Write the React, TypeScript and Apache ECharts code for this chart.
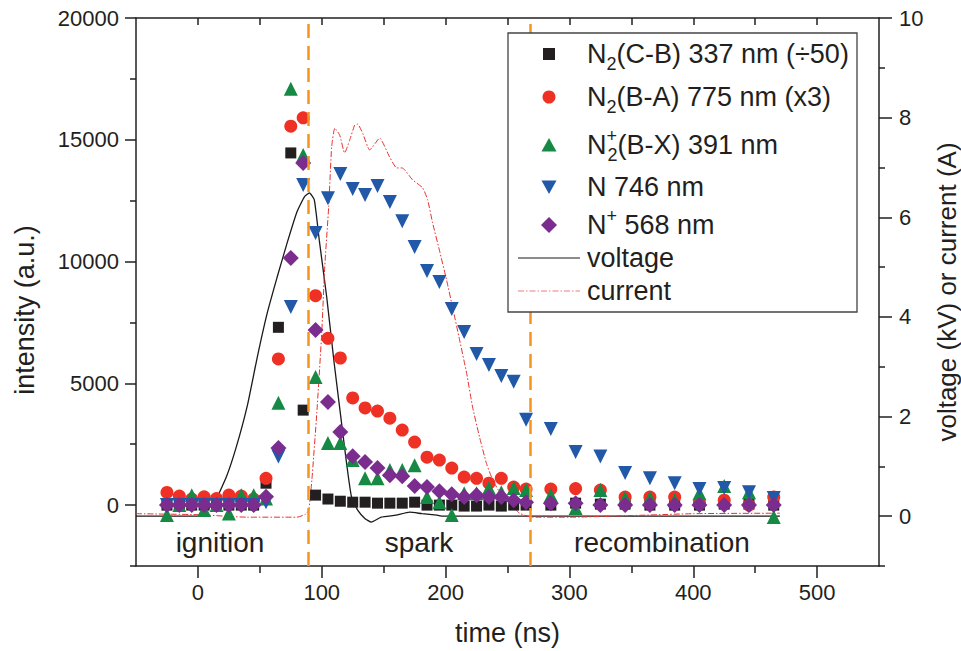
import React, { useEffect, useRef } from 'react';
import * as echarts from 'echarts';

const FONT = 'Liberation Sans, Arial, sans-serif';
const INK = '#231f20';

// time axis of the optical emission measurements (ns)
const timesNs = [-25, -15, -5, 5, 15, 25, 35, 45, 55, 65, 75, 85, 95, 105, 115, 125, 135, 145, 155, 165, 175, 185, 195, 205, 215, 225, 235, 245, 255, 265, 285, 305, 325, 345, 365, 385, 405, 425, 445, 465];

const n2CB = [0, 0, 0, 0, 0, 0, 0, 0, 900, 7300, 14460, 3900, 410, 250, 160, 120, 120, 80, 80, 80, 120, 0, 0, 0, -40, -40, 0, -40, 0, 0, 0, 80, 40, 40, 0, 0, 0, 40, 40, 0];
const n2BA = [520, 370, 250, 340, 270, 410, 370, 250, 1100, 6000, 15560, 15900, 8600, 6850, 6040, 4400, 3990, 3860, 3570, 3080, 2590, 1970, 1850, 1520, 1150, 1100, 900, 1100, 740, 660, 660, 680, 620, 330, 330, 330, 120, 200, 0, 330];
const n2pBX = [-410, 0, 410, -200, 0, -340, 410, 410, 270, 4200, 17100, 14370, 5260, 2550, 2550, 1850, 1100, 1100, 1440, 1440, 1640, 330, 120, -410, 490, 490, 700, 530, 700, 620, 410, -120, 620, 290, 290, 200, 490, 780, 530, -490];
const n746 = [0, 0, 0, 0, 0, 0, 0, 0, 120, 2000, 8130, 13140, 11170, 12600, 13600, 12980, 12730, 13100, 12450, 11660, 10600, 9610, 9160, 8050, 7110, 6200, 5750, 5300, 5060, 3500, 3130, 2180, 2000, 1320, 1100, 900, 660, 700, 530, 290];
const np568 = [0, 0, 0, 0, 0, 0, 0, 0, 340, 2350, 10150, 14050, 7190, 4230, 3000, 2010, 1770, 1520, 1230, 1190, 780, 740, 570, 450, 330, 410, 330, 330, 200, 120, 80, 80, 0, 0, 0, 0, 0, 0, 0, 0];

// electrical waveforms (right axis)
const voltageT = [-50, 0, 5, 13, 23, 31, 40, 48, 56, 64, 72, 80, 86, 90, 94, 98, 104, 110, 115, 120, 124, 129, 135, 140, 148, 160, 171, 181, 193, 198, 230, 300, 400, 470];
const voltageV = [0, 0, 0.08, 0.26, 0.79, 1.39, 2.23, 3.2, 4.08, 4.8, 5.48, 6.11, 6.41, 6.49, 6.35, 5.54, 4.4, 3.08, 2.07, 1.07, 0.39, 0.12, -0.05, -0.12, -0.02, 0.02, 0.08, 0.05, 0.02, 0, 0, 0, 0, 0];
const currentT = [-50, 0, 40, 80, 87, 89.5, 92, 96, 100, 102.4, 105.6, 108, 110.5, 114.5, 118.5, 122.6, 126.6, 129, 133, 138.7, 146.8, 154.8, 160.5, 165, 173.4, 181.5, 185.5, 189.5, 195, 200.8, 205.6, 211.3, 217, 221.8, 227.4, 233, 238, 243.5, 251.6, 259.7, 270, 300, 400, 470];
const currentV = [0.05, 0.03, -0.02, -0.02, 0.04, 0.12, 0.72, 2.07, 3.68, 5.0, 6.21, 7.41, 7.79, 7.65, 7.29, 7.55, 7.85, 7.87, 7.69, 7.35, 7.59, 7.21, 6.99, 6.99, 6.75, 6.59, 6.35, 5.89, 5.34, 4.74, 4.2, 3.54, 2.87, 2.19, 1.59, 1.06, 0.73, 0.49, 0.26, 0.06, -0.02, -0.02, 0.05, 0.06];

// phase boundaries (ns)
const phaseBoundaries = [89, 268];
const phaseLabels = ['ignition', 'spark', 'recombination'];

// ticks
const xMajor = [0, 100, 200, 300, 400, 500];
const xMinor = [50, 150, 250, 350, 450];
const xTop = [0, 50, 100, 150, 200, 250, 300, 350, 400, 450, 500];
const yMajor = [0, 5000, 10000, 15000, 20000];
const yMinor = [-2500, 2500, 7500, 12500, 17500];
const vMajor = [0, 2, 4, 6, 8, 10];
const vMinor = [-1, 1, 3, 5, 7, 9];

const names = [
  'N2(C-B) 337 nm (÷50)',
  'N2(B-A) 775 nm (x3)',
  'N2+(B-X) 391 nm',
  'N 746 nm',
  'N+ 568 nm',
  'voltage',
  'current',
];
const richLabels = [
  'N{sub|2}(C-B) 337 nm (÷50)',
  'N{sub|2}(B-A) 775 nm (x3)',
  'N{supw|+}{sub|2}(B-X) 391 nm',
  'N 746 nm',
  'N{sup|+} 568 nm',
  'voltage',
  'current',
];

const COLORS = ['#231f20', '#ee3124', '#168a45', '#2158a8', '#7a2d8f'];
const VOLT_COLOR = '#1a1a1a';
const CURR_COLOR = '#e8302e';

const pair = (xs: number[], ys: number[]) => xs.map((x, i) => [x, ys[i]]);

function buildLegend() {
  const bx = 508, by = 33, bw = 349, bh = 279;
  const mx = 549; // marker centre
  const tx = 587; // text start
  const rows = [54, 97, 145, 187, 225, 258, 291];
  const rich = {
    sub: { fontSize: 18, padding: [20, 0, 0, 0], verticalAlign: 'middle', fill: INK, fontFamily: FONT },
    sup: { fontSize: 18, padding: [0, 0, 18, 0], verticalAlign: 'middle', fill: INK, fontFamily: FONT },
    supw: { fontSize: 18, padding: [0, 0, 18, 0], width: 1, verticalAlign: 'middle', fill: INK, fontFamily: FONT },
  };
  const els: any[] = [
    { type: 'rect', shape: { x: bx, y: by, width: bw, height: bh }, style: { fill: '#ffffff', stroke: '#444', lineWidth: 1.3 }, z: 100 },
    { type: 'rect', shape: { x: mx - 6, y: rows[0] - 6, width: 12, height: 12 }, style: { fill: COLORS[0] }, z: 101 },
    { type: 'circle', shape: { cx: mx, cy: rows[1], r: 6.5 }, style: { fill: COLORS[1] }, z: 101 },
    { type: 'polygon', shape: { points: [[mx, rows[2] - 7], [mx + 7.5, rows[2] + 6.5], [mx - 7.5, rows[2] + 6.5]] }, style: { fill: COLORS[2] }, z: 101 },
    { type: 'polygon', shape: { points: [[mx - 7.5, rows[3] - 6.5], [mx + 7.5, rows[3] - 6.5], [mx, rows[3] + 7]] }, style: { fill: COLORS[3] }, z: 101 },
    { type: 'polygon', shape: { points: [[mx, rows[4] - 8], [mx + 8, rows[4]], [mx, rows[4] + 8], [mx - 8, rows[4]]] }, style: { fill: COLORS[4] }, z: 101 },
    { type: 'line', shape: { x1: 518, y1: rows[5], x2: 580, y2: rows[5] }, style: { stroke: '#666', lineWidth: 1.4 }, z: 101 },
    { type: 'line', shape: { x1: 518, y1: rows[6], x2: 580, y2: rows[6] }, style: { stroke: '#f07b7b', lineWidth: 1.2, lineDash: [6, 2, 1.5, 2] }, z: 101 },
  ];
  richLabels.forEach((t, i) => {
    els.push({
      type: 'text', x: tx, y: rows[i], z: 101,
      style: { text: t, fontSize: 27, fontFamily: FONT, fill: INK, align: 'left', verticalAlign: 'middle', rich },
    });
  });
  return els;
}

export default function App() {
  const ref = useRef<HTMLDivElement>(null);
  useEffect(() => {
    if (!ref.current) return;
    const chart = echarts.init(ref.current, null, { renderer: 'svg' });
    const axisLine = { show: true, onZero: false, lineStyle: { color: INK, width: 1.5 } };
    const tickLine = { color: INK, width: 1.5 };
    const scatter = (idx: number, data: number[], symbol: string, size: number, rotate = 0) => ({
      name: names[idx],
      type: 'scatter',
      xAxisIndex: 0,
      yAxisIndex: 0,
      symbol,
      symbolSize: size,
      symbolRotate: rotate,
      itemStyle: { color: COLORS[idx], opacity: 1 },
      data: pair(timesNs, data),
      z: 3,
    });
    const phaseText = (text: string, x: number) => ({
      type: 'text', x, y: 542, z: 10,
      style: { text, fontSize: 28, fontFamily: FONT, fill: INK, align: 'center', verticalAlign: 'middle' },
    });
    const option: any = {
      animation: false,
      backgroundColor: '#ffffff',
      textStyle: { fontFamily: FONT },
      grid: { left: 136, right: 82, top: 18, bottom: 85, outerBoundsMode: 'none', containLabel: false },
      xAxis: [
        {
          type: 'value', min: -50, max: 550, position: 'bottom',
          axisLine,
          axisTick: { show: true, customValues: xMajor, length: 12, inside: false, lineStyle: tickLine },
          axisLabel: { show: true, customValues: xMajor, fontSize: 22, color: INK, margin: 15, fontFamily: FONT, formatter: (v: number) => String(v) },
          splitLine: { show: false },
          name: 'time (ns)', nameLocation: 'middle', nameGap: 53,
          nameTextStyle: { fontSize: 27, color: INK, fontFamily: FONT },
        },
        {
          type: 'value', min: -50, max: 550, position: 'top',
          axisLine,
          axisTick: { show: true, customValues: xTop, length: 7, inside: true, lineStyle: tickLine },
          axisLabel: { show: false },
          splitLine: { show: false },
        },
        {
          type: 'value', min: -50, max: 550, position: 'bottom',
          axisLine: { show: false, onZero: false },
          axisTick: { show: true, customValues: xMinor, length: 7, inside: false, lineStyle: tickLine },
          axisLabel: { show: false },
          splitLine: { show: false },
        },
      ],
      yAxis: [
        {
          type: 'value', min: -2500, max: 20000, position: 'left',
          axisLine,
          axisTick: { show: true, customValues: yMajor, length: 11, inside: false, lineStyle: tickLine },
          axisLabel: { show: true, customValues: yMajor, fontSize: 22, color: INK, margin: 17, fontFamily: FONT, formatter: (v: number) => String(v) },
          splitLine: { show: false },
          name: 'intensity (a.u.)', nameLocation: 'middle', nameGap: 98, nameRotate: 90,
          nameTextStyle: { fontSize: 27, color: INK, fontFamily: FONT, padding: [0, 36, 0, 0] },
        },
        {
          type: 'value', min: -1, max: 10, position: 'right',
          axisLine,
          axisTick: { show: true, customValues: vMajor, length: 13, inside: false, lineStyle: tickLine },
          axisLabel: { show: true, customValues: vMajor, fontSize: 22, color: INK, margin: 20, fontFamily: FONT, formatter: (v: number) => String(v) },
          splitLine: { show: false },
          name: 'voltage (kV) or current (A)', nameLocation: 'middle', nameGap: 42, nameRotate: 90,
          nameTextStyle: { fontSize: 26, color: INK, fontFamily: FONT },
        },
        {
          type: 'value', min: -2500, max: 20000, position: 'left',
          axisLine: { show: false, onZero: false },
          axisTick: { show: true, customValues: yMinor, length: 6, inside: false, lineStyle: tickLine },
          axisLabel: { show: false },
          splitLine: { show: false },
        },
        {
          type: 'value', min: -1, max: 10, position: 'right',
          axisLine: { show: false, onZero: false },
          axisTick: { show: true, customValues: vMinor, length: 6, inside: false, lineStyle: tickLine },
          axisLabel: { show: false },
          splitLine: { show: false },
        },
      ],
      graphic: [
        phaseText(phaseLabels[0], 220),
        phaseText(phaseLabels[1], 419),
        phaseText(phaseLabels[2], 662),
        ...buildLegend(),
      ],
      series: [
        {
          name: names[5], type: 'line', xAxisIndex: 0, yAxisIndex: 1,
          data: pair(voltageT, voltageV), symbol: 'none', showSymbol: false, smooth: 0.15,
          lineStyle: { color: VOLT_COLOR, width: 1.3 }, itemStyle: { color: VOLT_COLOR }, z: 2,
        },
        {
          name: names[6], type: 'line', xAxisIndex: 0, yAxisIndex: 1,
          data: pair(currentT, currentV), symbol: 'none', showSymbol: false, smooth: 0.15,
          lineStyle: { color: CURR_COLOR, width: 1, type: [6, 2, 1.5, 2] }, itemStyle: { color: CURR_COLOR }, z: 2,
        },
        scatter(0, n2CB, 'rect', 11),
        scatter(1, n2BA, 'circle', 13),
        scatter(2, n2pBX, 'triangle', 14),
        scatter(3, n746, 'triangle', 14, 180),
        {
          ...scatter(4, np568, 'diamond', 16),
          markLine: {
            silent: true,
            symbol: ['none', 'none'],
            label: { show: false },
            z: 6,
            lineStyle: { color: '#f7941d', width: 2.5, type: [14, 8] },
            emphasis: { disabled: true },
            data: phaseBoundaries.map((b) => ({ xAxis: b })),
          },
        },
      ],
    };
    chart.setOption(option);
    return () => chart.dispose();
  }, []);
  return <div ref={ref} style={{ position: 'fixed', left: 0, top: 0, width: 961, height: 651, background: '#fff' }} />;
}
